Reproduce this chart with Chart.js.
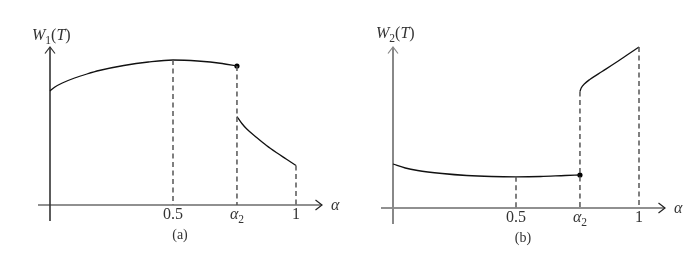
<!DOCTYPE html>
<html>
<head>
<meta charset="utf-8">
<script src="https://cdn.jsdelivr.net/npm/chart.js@4.4.0/dist/chart.umd.min.js"></script>
<style>
  html, body { margin: 0; padding: 0; background: #fff; }
  #wrap { position: relative; width: 683px; height: 254px; }
  canvas { position: absolute; top: 0; }
</style>
</head>
<body>
<div id="wrap">
  <canvas id="chartA" width="342" height="254" style="left:0"></canvas>
  <canvas id="chartB" width="341" height="254" style="left:342px"></canvas>
</div>
<script>
// alpha_2 where both curves jump
const alpha2 = 0.76;

// panel (a): W1(T)
const alphaA1 = [0, 0.02, 0.05, 0.1, 0.15, 0.2, 0.3, 0.4, 0.5, 0.6, 0.7, 0.76];
const w1Left = [114, 118, 122, 127, 131, 134.5, 139.5, 143, 145, 144, 141.5, 139];
const alphaA2 = [0.76, 0.78, 0.8, 0.84, 0.88, 0.92, 0.96, 1];
const w1Right = [88.5, 81.5, 76, 67.5, 59.5, 52.5, 46, 39.5];

// panel (b): W2(T)
const alphaB1 = [0, 0.05, 0.1, 0.2, 0.3, 0.4, 0.5, 0.6, 0.7, 0.76];
const w2Left = [44, 40, 37.5, 34.5, 32.5, 31.5, 31.2, 31.5, 32.5, 33];
const alphaB2 = [0.76, 0.765, 0.78, 0.8, 0.85, 0.9, 0.95, 1];
const w2Right = [116.5, 120, 124.5, 128.5, 136.5, 144.5, 152.8, 161];

// ticks on the alpha axis
const tickValues = [0.5, alpha2, 1];
const tickLabels = ['0.5', 'α2', '1'];

const SERIF = '"Liberation Serif", "DejaVu Serif", serif';

const toPoints = (xs, ys) => xs.map((x, i) => ({x: x, y: ys[i]}));

// draw text made of pieces (italic / subscript)
function drawMath(ctx, parts, x, y, align, size) {
    let total = 0;
    parts.forEach(p => {
        ctx.font = (p.it ? 'italic ' : '') + (p.sub ? size * 0.72 : size) + 'px ' + SERIF;
        p.w = ctx.measureText(p.t).width;
        total += p.w;
    });
    let cx = align === 'center' ? x - total / 2 : x;
    ctx.textAlign = 'left';
    ctx.textBaseline = 'alphabetic';
    parts.forEach(p => {
        ctx.font = (p.it ? 'italic ' : '') + (p.sub ? size * 0.72 : size) + 'px ' + SERIF;
        ctx.fillText(p.t, cx, p.sub ? y + size * 0.22 : y);
        cx += p.w;
    });
}

function labelParts(label) {
    if (label === 'α2') return [{t: 'α', it: true}, {t: '2', sub: true}];
    return [{t: label}];
}

function arrowHead(ctx, x, y, dir) {
    ctx.beginPath();
    if (dir === 'up') {
        ctx.moveTo(x - 5, y + 6.5); ctx.lineTo(x, y); ctx.lineTo(x + 5, y + 6.5);
    } else {
        ctx.moveTo(x - 6.5, y - 5); ctx.lineTo(x, y); ctx.lineTo(x - 6.5, y + 5);
    }
    ctx.stroke();
}

function makeAxesPlugin(cfg) {
    return {
        id: 'axes_' + cfg.caption,
        beforeDatasetsDraw(chart) {
            const ctx = chart.ctx;
            const xs = chart.scales.x, ys = chart.scales.y;
            const x0 = xs.getPixelForValue(0), y0 = ys.getPixelForValue(0);
            const yTop = ys.getPixelForValue(ys.max);
            ctx.save();
            // x axis
            ctx.strokeStyle = '#222';
            ctx.lineWidth = 1.2;
            ctx.beginPath();
            ctx.moveTo(x0 - 12, y0); ctx.lineTo(cfg.xEnd, y0);
            ctx.stroke();
            arrowHead(ctx, cfg.xEnd, y0, 'right');
            // y axis
            ctx.strokeStyle = cfg.yColor;
            ctx.lineWidth = cfg.yWidth;
            ctx.beginPath();
            ctx.moveTo(x0, y0 + 16); ctx.lineTo(x0, yTop);
            ctx.stroke();
            ctx.lineWidth = 1.2;
            arrowHead(ctx, x0, yTop, 'up');
            // labels
            ctx.fillStyle = '#333';
            tickValues.forEach((v, i) => {
                drawMath(ctx, labelParts(tickLabels[i]), xs.getPixelForValue(v), y0 + 14, 'center', 16);
            });
            drawMath(ctx, [{t: 'α', it: true}], cfg.xEnd + 9, y0 + 5, 'left', 16);
            drawMath(ctx, [{t: 'W', it: true}, {t: cfg.sub, sub: true}, {t: '('}, {t: 'T', it: true}, {t: ')'}],
                cfg.titleX, cfg.titleY, 'left', 16);
            drawMath(ctx, [{t: '(' + cfg.caption + ')'}], x0 + 130, y0 + 34, 'center', 14);
            ctx.restore();
        }
    };
}

function dashedLine(x, top) {
    return {
        data: [{x: x, y: top}, {x: x, y: 0}],
        borderColor: '#555',
        borderWidth: 1.5,
        borderDash: [5, 3.5],
        pointRadius: 0,
        clip: false
    };
}

function curve(pts) {
    return {
        data: pts,
        borderColor: '#111',
        borderWidth: 1.3,
        pointRadius: 0,
        cubicInterpolationMode: 'monotone',
        clip: false
    };
}

function dot(x, y) {
    return {
        data: [{x: x, y: y}],
        showLine: false,
        pointRadius: 2.6,
        pointBackgroundColor: '#000',
        pointBorderWidth: 0,
        clip: false
    };
}

function drawPanel(id, datasets, yMax, padding, cfg) {
    new Chart(document.getElementById(id), {
        type: 'line',
        data: {datasets: datasets},
        options: {
            responsive: false,
            animation: false,
            layout: {padding: padding},
            plugins: {legend: {display: false}, tooltip: {enabled: false}},
            scales: {
                x: {type: 'linear', min: 0, max: 1, display: false},
                y: {min: 0, max: yMax, display: false}
            }
        },
        plugins: [makeAxesPlugin(cfg)]
    });
}

drawPanel('chartA', [
    dashedLine(0.5, w1Left[alphaA1.indexOf(0.5)]),
    dashedLine(alpha2, w1Left[w1Left.length - 1]),
    dashedLine(1, w1Right[w1Right.length - 1]),
    curve(toPoints(alphaA1, w1Left)),
    curve(toPoints(alphaA2, w1Right)),
    dot(alpha2, w1Left[w1Left.length - 1])
], 158, {left: 50, right: 46, top: 47, bottom: 49},
{caption: 'a', sub: '1', xEnd: 322, yColor: '#333', yWidth: 1.6, titleX: 32, titleY: 40});

drawPanel('chartB', [
    dashedLine(0.5, w2Left[alphaB1.indexOf(0.5)]),
    dashedLine(alpha2, w2Right[0]),
    dashedLine(1, w2Right[w2Right.length - 1]),
    curve(toPoints(alphaB1, w2Left)),
    curve(toPoints(alphaB2, w2Right)),
    dot(alpha2, w2Left[w2Left.length - 1])
], 161, {left: 51, right: 44, top: 47, bottom: 46},
{caption: 'b', sub: '2', xEnd: 323, yColor: '#888', yWidth: 2, titleX: 34, titleY: 38});
</script>
</body>
</html>
